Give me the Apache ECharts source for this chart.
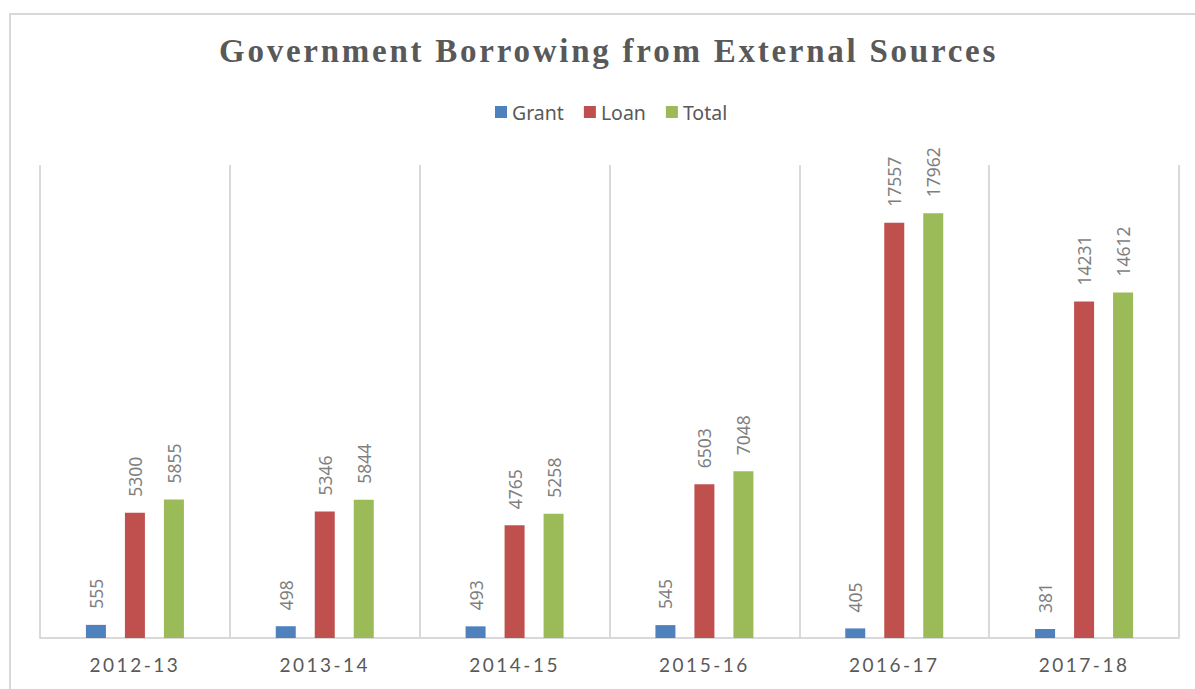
<!DOCTYPE html>
<html>
<head>
<meta charset="utf-8">
<title>Government Borrowing from External Sources</title>
<script src="https://cdn.jsdelivr.net/npm/echarts@6/dist/echarts.min.js"></script>
<style>
    html, body { margin: 0; padding: 0; background: #ffffff; }
    #borrowingChart { width: 1195px; height: 689px; }
    /* the SVG renderer writes the font into the style attribute, so spacing can be added here */
    #borrowingChart text[style*="Liberation Serif"] { letter-spacing: 2.75px; }
    #borrowingChart text[style*="Lato"] { letter-spacing: 2.5px; }
</style>
</head>
<body>
<div id="borrowingChart"></div>
<script>
// Fiscal years on the x-axis
const years = ['2012-13', '2013-14', '2014-15', '2015-16', '2016-17', '2017-18'];
// Values per year for each series
const grant = [555, 498, 493, 545, 405, 381];
const loan = [5300, 5346, 4765, 6503, 17557, 14231];
const total = [5855, 5844, 5258, 7048, 17962, 14612];
// Hidden value axis range
const valueMin = 0;
const valueMax = 20000;

function drawChart() {
    const chartDom = document.getElementById('borrowingChart');
    const myChart = echarts.init(chartDom, null, { renderer: 'svg' });

    // Shared label look for the rotated values above each bar
    const barLabel = {
        show: true,
        position: 'top',
        rotate: 90,
        align: 'left',
        verticalAlign: 'middle',
        distance: 16,
        color: '#7f7f7f',
        fontFamily: 'Noto Sans',
        fontSize: 17.5
    };

    const option = {
        animation: false,
        backgroundColor: '#ffffff',
        title: {
            text: 'Government Borrowing from External Sources',
            left: 219,
            top: 34,
            padding: 0,
            textStyle: {
                fontFamily: 'Liberation Serif',
                fontWeight: 'bold',
                fontSize: 33,
                color: '#595959'
            }
        },
        legend: {
            left: 490,
            top: 97,
            itemWidth: 12,
            itemHeight: 12,
            itemGap: 20,
            icon: 'rect',
            textStyle: { fontFamily: 'Noto Sans', fontSize: 19.5, color: '#595959' }
        },
        grid: { left: 40, right: 16, top: 165, bottom: 51 },
        xAxis: {
            type: 'category',
            data: years,
            axisLine: { lineStyle: { color: '#d9d9d9', width: 2 } },
            axisTick: { show: false },
            axisLabel: {
                interval: 0,
                margin: 17,
                fontFamily: 'Lato',
                fontSize: 19,
                color: '#595959'
            },
            splitLine: { show: true, lineStyle: { color: '#d9d9d9', width: 2 } }
        },
        yAxis: {
            type: 'value',
            show: false,
            min: valueMin,
            max: valueMax,
            splitLine: { show: false }
        },
        // Outer frame of the chart area
        graphic: [{
            type: 'rect',
            shape: { x: 10, y: 14, width: 1260, height: 800 },
            style: { fill: 'none', stroke: '#d9d9d9', lineWidth: 2 },
            silent: true
        }],
        series: [
            { name: 'Grant', type: 'bar', data: grant, barWidth: 20, barGap: '95%', itemStyle: { color: '#4f81bd' }, label: barLabel },
            { name: 'Loan', type: 'bar', data: loan, barWidth: 20, barGap: '95%', itemStyle: { color: '#c0504d' }, label: barLabel },
            { name: 'Total', type: 'bar', data: total, barWidth: 20, barGap: '95%', itemStyle: { color: '#9bbb59' }, label: barLabel }
        ]
    };

    myChart.setOption(option);
}

drawChart();
</script>
</body>
</html>
